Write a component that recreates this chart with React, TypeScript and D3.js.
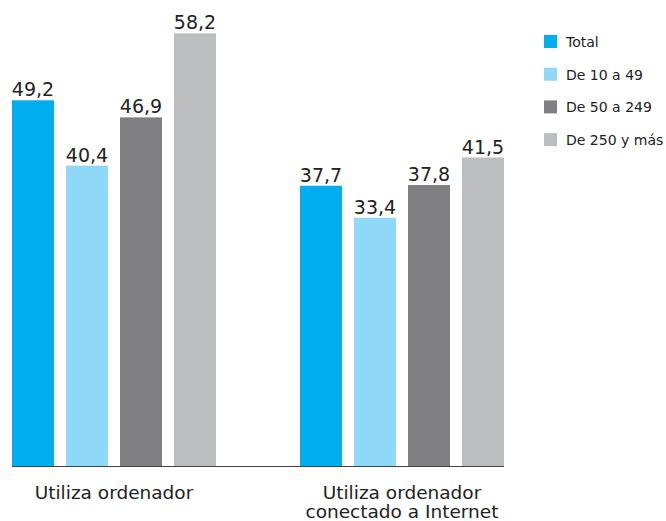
import { useEffect, useRef } from "react";
import * as d3 from "d3";

const categories = ["Utiliza ordenador", "Utiliza ordenador\nconectado a Internet"];
const seriesNames = ["Total", "De 10 a 49", "De 50 a 249", "De 250 y más"];
const seriesColors = ["#00aeef", "#8fd8f7", "#808083", "#bcbdbf"];
const values = [
  [49.2, 40.4, 46.9, 58.2],
  [37.7, 33.4, 37.8, 41.5],
];

const width = 666;
const height = 521;
const font = "'DejaVu Sans', sans-serif";

const App = () => {
  const ref = useRef<SVGSVGElement>(null);

  useEffect(() => {
    const svg = d3.select(ref.current);
    svg.selectAll("*").remove();

    const x0 = d3.scaleBand().domain(categories).range([12, 504]).paddingInner(0.2917);
    const x1 = d3
      .scaleBand()
      .domain(seriesNames)
      .range([0, x0.bandwidth()])
      .paddingInner(0.2222);
    const y = d3.scaleLinear().domain([0, 60]).range([466, 20]);

    const groups = svg
      .append("g")
      .selectAll("g")
      .data(categories)
      .join("g")
      .attr("transform", (d) => `translate(${x0(d)},0)`);

    groups
      .selectAll("rect")
      .data((d, i) => values[i].map((v, j) => ({ v, name: seriesNames[j], color: seriesColors[j] })))
      .join("rect")
      .attr("x", (d) => x1(d.name)!)
      .attr("y", (d) => y(d.v))
      .attr("width", x1.bandwidth())
      .attr("height", (d) => y(0) - y(d.v))
      .attr("fill", (d) => d.color);

    groups
      .selectAll("text.val")
      .data((d, i) => values[i].map((v, j) => ({ v, name: seriesNames[j] })))
      .join("text")
      .attr("class", "val")
      .attr("x", (d) => x1(d.name)! + x1.bandwidth() / 2)
      .attr("y", (d) => y(d.v) - 4)
      .attr("text-anchor", "middle")
      .attr("font-family", font)
      .attr("font-size", 19)
      .attr("fill", "#222")
      .text((d) => d3.format(".1f")(d.v).replace(".", ","));

    // baseline
    svg
      .append("line")
      .attr("x1", 12)
      .attr("x2", 504)
      .attr("y1", y(0) + 0.5)
      .attr("y2", y(0) + 0.5)
      .attr("stroke", "#444")
      .attr("stroke-width", 1);

    // category labels
    categories.forEach((c) => {
      const t = svg
        .append("text")
        .attr("text-anchor", "middle")
        .attr("font-family", font)
        .attr("font-size", 18.5)
        .attr("fill", "#222");
      c.split("\n").forEach((line, k) => {
        t.append("tspan")
          .attr("x", x0(c)! + x0.bandwidth() / 2)
          .attr("y", 499 + k * 19)
          .text(line);
      });
    });

    // legend
    const legend = svg
      .append("g")
      .selectAll("g")
      .data(seriesNames)
      .join("g")
      .attr("transform", (d, i) => `translate(544,${35 + i * 32.7})`);
    legend
      .append("rect")
      .attr("width", 13)
      .attr("height", 13)
      .attr("fill", (d, i) => seriesColors[i]);
    legend
      .append("text")
      .attr("x", 22)
      .attr("y", 12)
      .attr("font-family", font)
      .attr("font-size", 14)
      .attr("fill", "#222")
      .text((d) => d);
  }, []);

  return (
    <svg
      ref={ref}
      width={width}
      height={height}
      style={{ position: "absolute", left: 0, top: 0, background: "#fff" }}
    />
  );
};

export default App;
